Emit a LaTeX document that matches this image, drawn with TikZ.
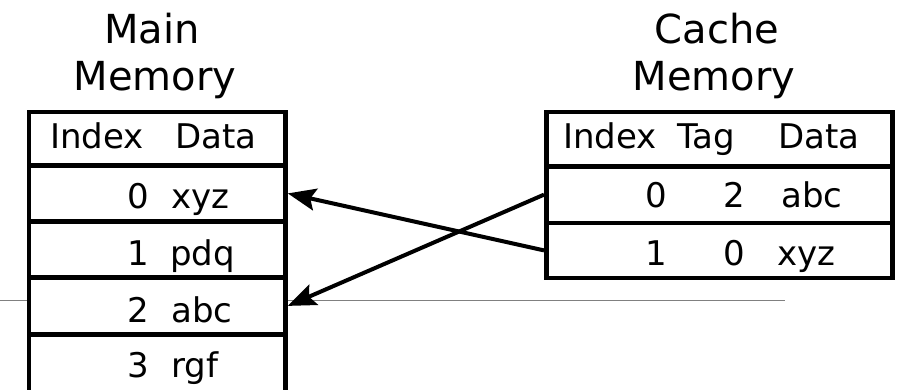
\documentclass[tikz,border=0pt]{standalone}
\usepackage{fontspec}
\setmainfont{DejaVu Sans}
\usetikzlibrary{arrows.meta}
\tikzset{
  cell/.style={draw=black, line width=4.8pt, fill=white, inner sep=0pt, anchor=north west},
  txt/.style={inner sep=0pt, font=\fontsize{34}{40}\selectfont},
  ttl/.style={inner sep=0pt, anchor=base, font=\fontsize{40}{46}\selectfont},
  arr/.style={line width=4pt, -{Stealth[length=28pt, width=22pt, inset=5pt]}},
  gline/.style={draw=black!50, line width=1.6pt}
}
\begin{document}
\begin{tikzpicture}[x=1pt, y=-1pt]
\useasboundingbox (0,0) rectangle (900,389);
\clip (0,0) rectangle (900,389);
% thin gray line
\coordinate (g0) at (0,300.5);
\coordinate (g1) at (785,300.5);
\draw[gline] (g0) -- (g1);
% titles
\node[ttl] (t1) at (152,43) {Main};
\node[ttl] (t2) at (155,90) {Memory};
\node[ttl] (t3) at (717,43) {Cache};
\node[ttl] (t4) at (714,90) {Memory};
% main memory table
\node[cell, minimum width=256.5pt, minimum height=53.5pt] (mh) at (26.5,109.5) {};
\node[cell, minimum width=256.5pt, minimum height=56pt] (m0) at (26.5,163) {};
\node[cell, minimum width=256.5pt, minimum height=56pt] (m1) at (26.5,219) {};
\node[cell, minimum width=256.5pt, minimum height=57pt] (m2) at (26.5,275) {};
\node[cell, minimum width=256.5pt, minimum height=60pt] (m3) at (26.5,332) {};
% cache table
\node[cell, minimum width=346pt, minimum height=54.5pt] (ch) at (544,109.5) {};
\node[cell, minimum width=346pt, minimum height=56.5pt] (c0) at (544,164) {};
\node[cell, minimum width=346pt, minimum height=55pt] (c1) at (544,220.5) {};
% main memory text
\node[txt, anchor=base west] (mhi) at (50,148) {Index};
\node[txt, anchor=base west] (mhd) at (175,148) {Data};
\node[txt, anchor=base east] (m0i) at (149,208) {0};
\node[txt, anchor=base west] (m0d) at (171,208) {xyz};
\node[txt, anchor=base east] (m1i) at (149,265) {1};
\node[txt, anchor=base west] (m1d) at (170,265) {pdq};
\node[txt, anchor=base east] (m2i) at (149,322) {2};
\node[txt, anchor=base west] (m2d) at (171,322) {abc};
\node[txt, anchor=base east] (m3i) at (149,377) {3};
\node[txt, anchor=base west] (m3d) at (171,377) {rgf};
% cache text
\node[txt, anchor=base west] (chi) at (563,148) {Index};
\node[txt, anchor=base west] (cht) at (677,148) {Tag};
\node[txt, anchor=base west] (chd) at (778,148) {Data};
\node[txt, anchor=base east] (c0i) at (667,207) {0};
\node[txt, anchor=base east] (c0t) at (745,207) {2};
\node[txt, anchor=base west] (c0d) at (781,207) {abc};
\node[txt, anchor=base east] (c1i) at (667,265) {1};
\node[txt, anchor=base east] (c1t) at (745,265) {0};
\node[txt, anchor=base west] (c1d) at (777,265) {xyz};
% arrows
\draw[arr] (c1.west) -- (m0.east);
\draw[arr] (c0.west) -- (m2.east);
\end{tikzpicture}
\end{document}
